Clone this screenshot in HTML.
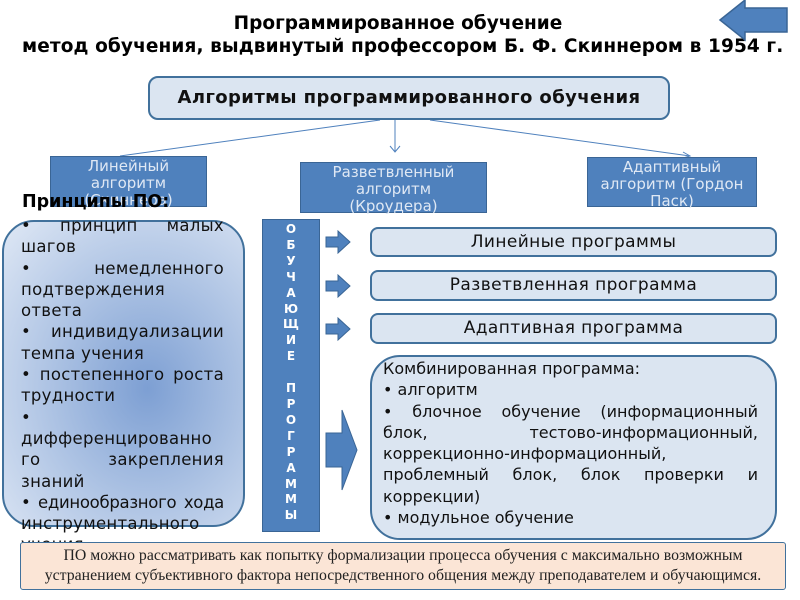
<!DOCTYPE html>
<html><head><meta charset="utf-8"><style>
body{margin:0;width:800px;height:600px;overflow:hidden;background:#fff;position:relative;font-family:"DejaVu Sans","Liberation Sans",sans-serif;}
.a{position:absolute;box-sizing:border-box}
.bl{background:#4f81bd;border:1.5px solid #3a6595;color:#dfe8f4;text-align:center;font-size:15px;line-height:17px}
.rb{background:#dbe5f1;border:2px solid #41719c;border-radius:8px;text-align:center;font-size:17px;color:#111;letter-spacing:0.4px}
.pl div{white-space:nowrap;height:21.3px}
.pl .j{text-align:justify;text-align-last:justify}
</style></head><body>
<div class="a" style="left:0;top:12px;width:796px;text-align:center;font-weight:bold;font-size:18.5px;line-height:24px">Программированное обучение</div>
<div class="a" style="left:22px;top:35px;width:800px;white-space:nowrap;font-weight:bold;font-size:18.5px;line-height:24px;letter-spacing:0.1px">метод обучения, выдвинутый профессором Б. Ф. Скиннером в 1954 г.</div>
<svg class="a" style="left:0;top:0" width="800" height="600">
<polygon points="720,20 745,0 745,8 787,8 787,32 745,32 745,40" fill="#4f81bd" stroke="#3a6595" stroke-width="1.5"/>
<g stroke="#4f81bd" stroke-width="1" fill="none">
<line x1="395" y1="120" x2="395" y2="152"/><polyline points="390,146 395,152 400,146"/>
<line x1="380" y1="120" x2="120" y2="156"/>
<line x1="430" y1="120" x2="690" y2="156"/><polyline points="683,152 690,156 683,158"/>
</g>
<g fill="#4f81bd" stroke="#3a6595">
<polygon points="326,237 338,237 338,231 350,242 338,253 338,247 326,247"/>
<polygon points="326,281 338,281 338,275 350,286 338,297 338,291 326,291"/>
<polygon points="326,324 338,324 338,318 350,329 338,340 338,334 326,334"/>
<polygon points="326,433 342,433 342,410 357,450 342,490 342,467 326,467"/>
</g>
</svg>
<div class="a rb" style="left:148px;top:76px;width:522px;height:44px;line-height:40px;font-weight:bold;font-size:18px;border-radius:10px">Алгоритмы программированного обучения</div>
<div class="a bl" style="left:50px;top:156px;width:157px;height:51px;padding-top:1px">Линейный<br>алгоритм<br>(Скиннера)</div>
<div class="a bl" style="left:300px;top:162px;width:187px;height:51px;padding-top:1px">Разветвленный<br>алгоритм<br>(Кроудера)</div>
<div class="a bl" style="left:587px;top:157px;width:170px;height:50px;padding-top:1px">Адаптивный<br>алгоритм (Гордон<br>Паск)</div>
<div class="a" style="left:2px;top:220px;width:243px;height:307px;border:2px solid #41719c;border-radius:32px;background:radial-gradient(ellipse at 60% 55%,#7d9fd3 0%,#b4c8e6 55%,#dfe8f5 100%)"></div>
<div class="a" style="left:22px;top:192px;font-weight:bold;font-size:17.5px">Принципы ПО:</div>
<div class="a pl" style="left:21px;top:215px;width:203px;font-size:16.5px;line-height:21.3px;color:#111;letter-spacing:0.3px">
<div class="j">• принцип малых</div><div>шагов</div><div class="j">• немедленного</div><div>подтверждения</div><div>ответа</div><div class="j">• индивидуализации</div><div>темпа учения</div><div class="j">• постепенного роста</div><div>трудности</div><div>•</div><div>дифференцированно</div><div class="j">го закрепления</div><div>знаний</div><div class="j" style="letter-spacing:-0.3px">• единообразного хода</div><div>инструментального</div><div>учения</div></div>
<div class="a bl" style="left:262px;top:219px;width:58px;height:313px;font-weight:bold;font-size:12px;line-height:15.9px;color:#fff;padding-top:2px">О<br>Б<br>У<br>Ч<br>А<br>Ю<br>Щ<br>И<br>Е<br><br>П<br>Р<br>О<br>Г<br>Р<br>А<br>М<br>М<br>Ы</div>
<div class="a rb" style="left:370px;top:227px;width:407px;height:30px;line-height:26px">Линейные программы</div>
<div class="a rb" style="left:370px;top:270px;width:407px;height:31px;line-height:27px">Разветвленная программа</div>
<div class="a rb" style="left:370px;top:313px;width:407px;height:31px;line-height:27px">Адаптивная программа</div>
<div class="a" style="left:370px;top:355px;width:407px;height:185px;background:#dbe5f1;border:2px solid #41719c;border-radius:30px"></div>
<div class="a" style="left:383px;top:358px;width:375px;font-size:16px;line-height:21.3px;text-align:justify;color:#111">Комбинированная программа:<br>• алгоритм<br>• блочное обучение (информационный блок, тестово-информационный, коррекционно-информационный, проблемный блок, блок проверки и коррекции)<br>• модульное обучение</div>
<div class="a" style="left:20px;top:542px;width:766px;height:48px;background:#fbe5d6;border:1.5px solid #41719c;border-radius:3px;text-align:center;font-family:'Liberation Serif',serif;font-size:15.8px;line-height:20px;padding-top:3px;color:#222;white-space:nowrap">ПО можно рассматривать как попытку формализации процесса обучения с максимально возможным<br>устранением субъективного фактора непосредственного общения между преподавателем и обучающимся.</div>
</body></html>
